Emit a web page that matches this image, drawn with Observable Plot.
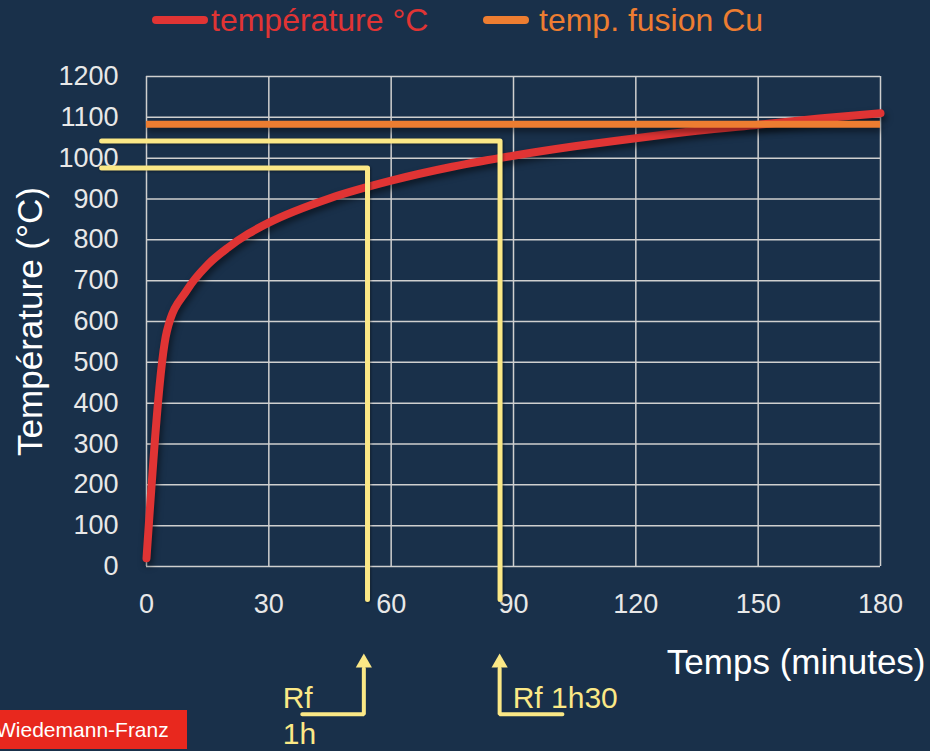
<!DOCTYPE html>
<html><head><meta charset="utf-8">
<script src="https://cdn.jsdelivr.net/npm/d3@7"></script>
<script src="https://cdn.jsdelivr.net/npm/@observablehq/plot@0.6"></script>
<style>
html,body{margin:0;padding:0;background:#19304a;}
#wrap{position:relative;width:930px;height:751px;overflow:hidden;font-family:"Liberation Sans",Arial,sans-serif;background:#19304a;}
#chart{position:absolute;left:0;top:0;}
.sw{position:absolute;height:8px;border-radius:4px;}
.lt{position:absolute;font-size:32px;line-height:36px;top:2px;white-space:nowrap;}
#credit{position:absolute;left:0;top:710px;width:187px;height:39px;background:#e8281e;color:#fff;font-size:21px;line-height:39px;white-space:nowrap;text-indent:-4px;}
</style></head>
<body><div id="wrap">
<div id="chart"></div>
<div class="sw" style="left:152px;top:16px;width:56px;background:#e03434"></div>
<div class="lt" style="left:211px;color:#e03434">température °C</div>
<div class="sw" style="left:483px;top:16px;width:46px;background:#ed7d31"></div>
<div class="lt" style="left:539px;color:#ed7d31">temp. fusion Cu</div>
<div id="credit">Wiedemann-Franz</div>
</div>
<script>
// Data
const times = [0, 5, 10, 15, 20, 25, 30, 45, 60, 75, 90, 105, 120, 135, 150, 165, 180];
const temps = [20, 576, 678, 739, 781, 815, 842, 902, 945, 979, 1006, 1029, 1049, 1067, 1082, 1097, 1110];
const meltCu = 1083;
const xTicks = [0, 30, 60, 90, 120, 150, 180];
const yTicks = [0, 100, 200, 300, 400, 500, 600, 700, 800, 900, 1000, 1100, 1200];
// Rf guide lines: reading time (min) and level (°C)
const rfTimes = [54.2, 86.7];
const rfLevels = [976, 1042];
const rfArrowX = [53.3, 86.6];
const rfLabels = ["Rf", "Rf 1h30"];

// annotation geometry (in data units, drawn outside the frame)
const guideLeft = -11, guideBottom = -81;
const arrowBase = -362, arrowShaftTop = -250, arrowHeadY = -236;

const curve = times.map((t, i) => ({t, T: temps[i]}));
const guides = [];
rfTimes.forEach((t, i) => {
  guides.push({id: i, x: guideLeft, y: rfLevels[i]});
  guides.push({id: i, x: t, y: rfLevels[i]});
  guides.push({id: i, x: t, y: guideBottom});
});
const arrows = [
  {id: 0, x: 38.2, y: arrowBase}, {id: 0, x: rfArrowX[0], y: arrowBase}, {id: 0, x: rfArrowX[0], y: arrowShaftTop},
  {id: 1, x: rfArrowX[1], y: arrowShaftTop}, {id: 1, x: rfArrowX[1], y: arrowBase}, {id: 1, x: 102, y: arrowBase}
];
const heads = rfArrowX.map(x => ({x, y: arrowHeadY}));
const labels = [
  {x: 33.4, y: -323, text: rfLabels[0]},
  {x: 33.4, y: -411, text: "1h"},
  {x: 89.8, y: -323, text: rfLabels[1]}
];

const yellow = "#fbe886";
const plot = Plot.plot({
  width: 930, height: 751,
  marginLeft: 146, marginRight: 50, marginTop: 76, marginBottom: 185,
  style: {background: "transparent", fontFamily: "Liberation Sans, Arial, sans-serif", fontSize: "27px", color: "#e8e8e8"},
  x: {domain: [0, 180]},
  y: {domain: [0, 1200]},
  marks: [
    Plot.gridX(xTicks, {stroke: "#cfcfcf", strokeOpacity: 1, strokeWidth: 1.5}),
    Plot.gridY(yTicks, {stroke: "#cfcfcf", strokeOpacity: 1, strokeWidth: 1.5}),
    Plot.axisX(xTicks, {tickSize: 0, tickPadding: 27, fontSize: 27, label: null, color: "#e8e8e8", tickFormat: d => String(d)}),
    Plot.axisY(yTicks, {tickSize: 0, tickPadding: 28, fontSize: 27, label: null, color: "#e8e8e8", tickFormat: d => String(d)}),
    Plot.line(curve, {x: "t", y: "T", curve: "monotone-x", stroke: "#e03434", strokeWidth: 8}),
    Plot.ruleY([meltCu], {x1: 0, x2: 180, stroke: "#ed7d31", strokeWidth: 7}),
    Plot.line(guides, {x: "x", y: "y", z: "id", stroke: yellow, strokeWidth: 5, strokeLinejoin: "round", strokeLinecap: "round"}),
    Plot.line(arrows, {x: "x", y: "y", z: "id", stroke: yellow, strokeWidth: 4, strokeLinejoin: "miter"}),
    Plot.dot(heads, {x: "x", y: "y", symbol: "triangle", r: 6, fill: yellow, stroke: "none"}),
    Plot.text(labels, {x: "x", y: "y", text: "text", textAnchor: "start", lineAnchor: "middle", fill: yellow, fontSize: 30}),
    Plot.text(["Température (°C)"], {frameAnchor: "left", dx: -116, rotate: -90, textAnchor: "middle", lineAnchor: "middle", fontSize: 35, fill: "#ffffff"}),
    Plot.text(["Temps (minutes)"], {frameAnchor: "bottom-right", dx: 45, dy: 96, textAnchor: "end", lineAnchor: "middle", fontSize: 35, fill: "#ffffff"})
  ]
});
document.getElementById("chart").appendChild(plot);
const lines = plot.querySelectorAll('g[aria-label="line"]');
if (lines[0]) lines[0].style.filter = "drop-shadow(2px 4px 3px rgba(0,0,0,0.5))";
const rules = plot.querySelectorAll('g[aria-label="rule"]');
rules.forEach(r => r.style.filter = "drop-shadow(1px 4px 3px rgba(0,0,0,0.45))");
if (lines[1]) lines[1].style.filter = "drop-shadow(1px 1px 1px rgba(0,0,0,0.4))";
</script>
</body></html>
